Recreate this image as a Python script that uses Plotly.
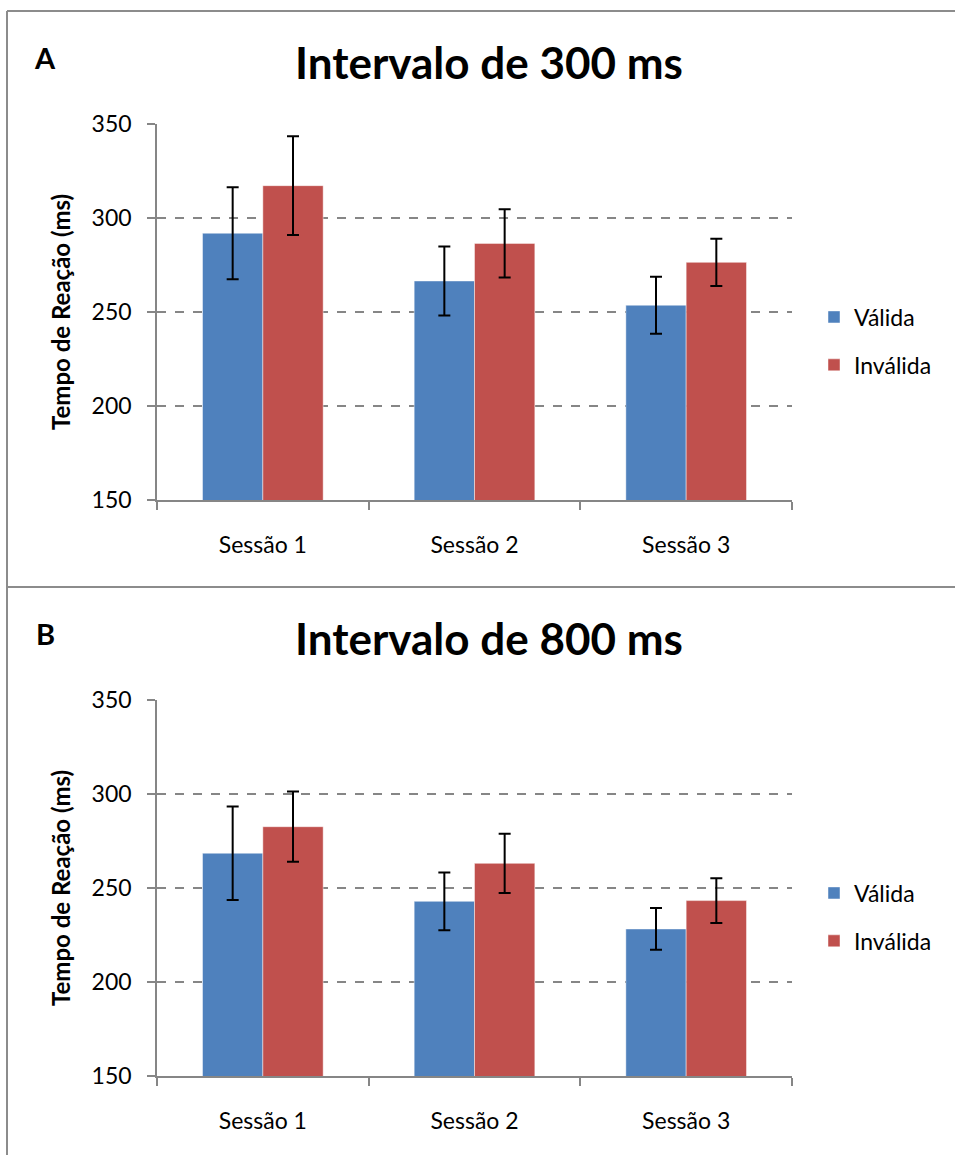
import plotly.graph_objects as go

sessions = ["Sessão 1", "Sessão 2", "Sessão 3"]

valida_300 = [291.9, 266.5, 253.6]
valida_300_err = [24.5, 18.4, 15.2]
invalida_300 = [317.2, 286.5, 276.4]
invalida_300_err = [26.3, 18.2, 12.6]

valida_800 = [268.5, 242.9, 228.2]
valida_800_err = [24.9, 15.4, 11.1]
invalida_800 = [282.6, 263.1, 243.3]
invalida_800_err = [18.7, 15.8, 11.9]

series_names = ["Válida", "Inválida"]
titles = ["Intervalo de 300 ms", "Intervalo de 800 ms"]
panel_labels = ["A", "B"]
y_ticks = [150, 200, 250, 300, 350]

BLUE = "#4F81BD"
RED = "#C0504D"
GRAY = "#868686"
FONT = "Lato"

W, H = 955, 1155


def px_x(x):
    return x / W


def px_y(y):
    return 1 - y / H


fig = go.Figure()

panels = [
    (valida_300, valida_300_err, invalida_300, invalida_300_err, "x", "y", "legend"),
    (valida_800, valida_800_err, invalida_800, invalida_800_err, "x2", "y2", "legend2"),
]

for vals_v, err_v, vals_i, err_i, xa, ya, lg in panels:
    for name, vals, errs, col in [
        (series_names[0], vals_v, err_v, BLUE),
        (series_names[1], vals_i, err_i, RED),
    ]:
        fig.add_trace(go.Bar(
            x=sessions, y=vals, name=name, xaxis=xa, yaxis=ya, legend=lg,
            legendgroup=name + lg,
            marker=dict(color=col, line=dict(color="rgba(255,255,255,0.45)", width=1)),
            error_y=dict(type="data", array=errs, visible=True,
                         color="black", thickness=2, width=6),
        ))

x_dom = [px_x(157), px_x(792)]
dom_top = [px_y(500), px_y(124)]
dom_bot = [px_y(1076), px_y(700)]

common_x = dict(
    showline=True, linecolor=GRAY, linewidth=1.5,
    ticks="outside", ticklen=8, tickcolor=GRAY, tickwidth=1.5,
    tickson="boundaries", showgrid=False, automargin=False,
    tickfont=dict(family=FONT, size=23, color="black"),
    ticklabelstandoff=24, fixedrange=True,
)
common_y = dict(
    range=[150, 350], tickvals=y_ticks,
    showline=True, linecolor=GRAY, linewidth=1.5,
    ticks="outside", ticklen=8, tickcolor=GRAY, tickwidth=1.5,
    showgrid=True, gridcolor=GRAY, gridwidth=1.5, griddash="dash",
    zeroline=False, automargin=False,
    tickfont=dict(family=FONT, size=23, color="black"),
    ticklabelstandoff=11, fixedrange=True,
)

legend_common = dict(
    font=dict(family=FONT, size=23, color="black"),
    xanchor="left", yanchor="middle", bgcolor="rgba(0,0,0,0)",
    traceorder="grouped", tracegroupgap=15, itemwidth=30,
)

fig.update_layout(
    width=W, height=H, autosize=False,
    margin=dict(l=0, r=0, t=0, b=0, pad=0, autoexpand=False),
    paper_bgcolor="white", plot_bgcolor="white",
    barmode="group", bargap=0.43, bargroupgap=0,
    xaxis=dict(domain=x_dom, anchor="y", **common_x),
    yaxis=dict(domain=dom_top, anchor="x", **common_y),
    xaxis2=dict(domain=x_dom, anchor="y2", **common_x),
    yaxis2=dict(domain=dom_bot, anchor="x2", **common_y),
    legend=dict(x=px_x(814), y=px_y(341), **legend_common),
    legend2=dict(x=px_x(814), y=px_y(917), **legend_common),
    showlegend=True,
)

annotations = []
shapes = []
for i, (title, lab) in enumerate(zip(titles, panel_labels)):
    off = 576 * i
    annotations.append(dict(
        text=f"<b>{title}</b>", xref="paper", yref="paper",
        x=px_x(489), y=px_y(62 + off), xanchor="center", yanchor="middle",
        showarrow=False, font=dict(family=FONT, size=44, color="black"),
    ))
    annotations.append(dict(
        text=f"<b>{lab}</b>", xref="paper", yref="paper",
        x=px_x(45), y=px_y(57 + off), xanchor="center", yanchor="middle",
        showarrow=False, font=dict(family=FONT, size=29, color="black"),
    ))
    annotations.append(dict(
        text="<b>Tempo de Reação (ms)</b>", xref="paper", yref="paper",
        x=px_x(60), y=px_y(312 + off), xanchor="center", yanchor="middle",
        textangle=-90, showarrow=False,
        font=dict(family=FONT, size=24, color="black"),
    ))

line_col = "#8C8C8C"
shapes.append(dict(type="line", xref="paper", yref="paper",
                   x0=px_x(7), x1=1, y0=px_y(11), y1=px_y(11),
                   line=dict(color=line_col, width=2)))
shapes.append(dict(type="line", xref="paper", yref="paper",
                   x0=px_x(7), x1=px_x(7), y0=0, y1=px_y(11),
                   line=dict(color=line_col, width=2)))
shapes.append(dict(type="line", xref="paper", yref="paper",
                   x0=px_x(7), x1=1, y0=px_y(587), y1=px_y(587),
                   line=dict(color=line_col, width=2)))

fig.update_layout(annotations=annotations, shapes=shapes)

fig.write_html("out.html", config={"displayModeBar": False},
               post_script="document.body.style.margin='0';")
